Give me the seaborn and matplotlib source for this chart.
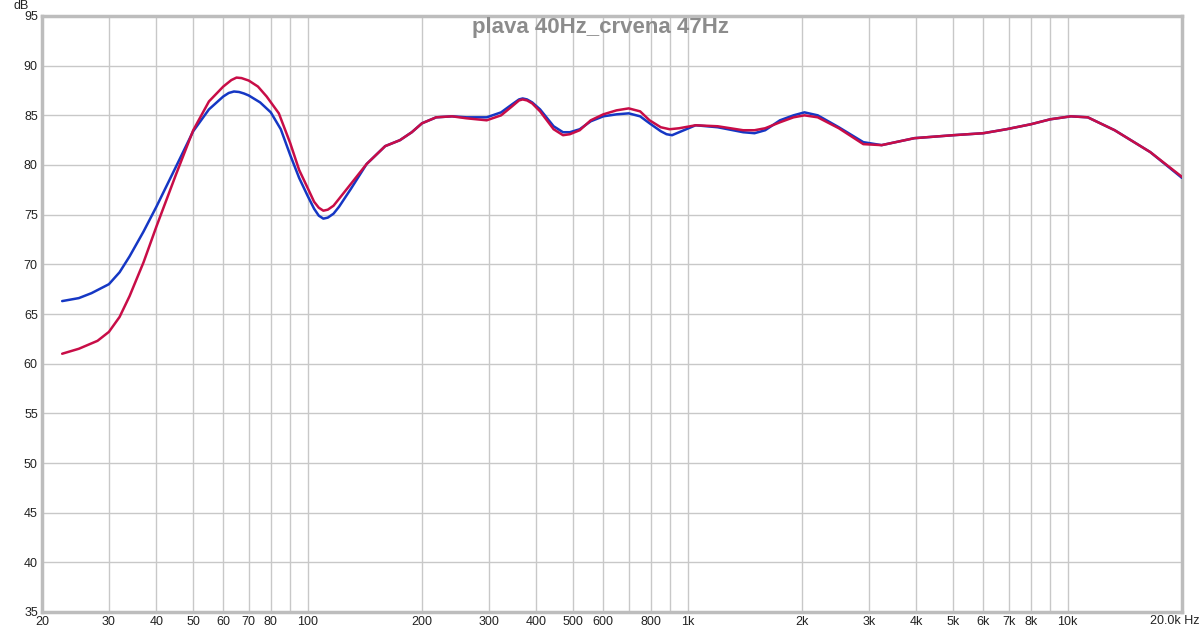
import numpy as np
import pandas as pd
import matplotlib
matplotlib.use("Agg")
import matplotlib.pyplot as plt
import seaborn as sns

# --- data ---
blue_freq = [22.6, 25, 27, 30, 32, 34, 37, 40, 45, 50, 55, 60, 62, 64, 66, 68, 70, 75, 80, 85, 90, 95,
             100, 104, 107, 110, 113, 117, 121, 130, 143, 160, 175, 188, 200, 218, 240, 262, 296, 323, 345,
             360, 368, 378, 390, 409, 444, 470, 490, 520, 556, 600, 650, 700, 750, 794, 850, 880, 910,
             950, 1050, 1200, 1400, 1500, 1600, 1750, 1900, 2030, 2200, 2500, 2900, 3240, 3950, 5000,
             6000, 6900, 8000, 9000, 10200, 11300, 13300, 16500, 20000]
blue_db = [66.3, 66.6, 67.1, 68.0, 69.2, 70.8, 73.3, 75.8, 79.8, 83.4, 85.6, 86.9, 87.25, 87.4, 87.35,
           87.2, 87.0, 86.3, 85.3, 83.6, 81.0, 78.7, 76.9, 75.6, 74.9, 74.6, 74.7, 75.1, 75.8, 77.6,
           80.1, 81.9, 82.5, 83.3, 84.2, 84.8, 84.9, 84.8, 84.8, 85.3, 86.1, 86.6, 86.7, 86.6, 86.3,
           85.6, 83.9, 83.3, 83.3, 83.6, 84.4, 84.9, 85.1, 85.2, 84.9, 84.2, 83.4, 83.1, 83.0, 83.3,
           84.0, 83.8, 83.3, 83.2, 83.5, 84.5, 85.0, 85.3, 85.0, 83.8, 82.3, 82.0, 82.7, 83.0, 83.2,
           83.6, 84.1, 84.6, 84.9, 84.8, 83.5, 81.3, 78.7]

red_freq = [22.6, 25, 28, 30, 32, 34, 37, 40, 45, 50, 55, 60, 63, 65, 67, 70, 74, 78, 84, 90, 95,
            100, 104, 107, 110, 113, 117, 121, 130, 143, 160, 175, 188, 200, 218, 240, 262, 296, 323, 345,
            360, 368, 378, 390, 409, 444, 470, 490, 520, 556, 600, 650, 700, 750, 794, 850, 897, 950,
            1050, 1200, 1400, 1500, 1600, 1750, 1900, 2030, 2200, 2500, 2900, 3240, 3950, 5000, 6000,
            6900, 8000, 9000, 10200, 11300, 13300, 16500, 20000]
red_db = [61.0, 61.5, 62.3, 63.2, 64.7, 66.8, 70.2, 73.8, 79.0, 83.5, 86.4, 87.9, 88.55, 88.8, 88.75,
          88.5, 87.9, 86.9, 85.2, 82.2, 79.5, 77.7, 76.3, 75.7, 75.4, 75.5, 75.9, 76.6, 78.1, 80.1,
          81.9, 82.5, 83.3, 84.2, 84.8, 84.9, 84.7, 84.5, 85.0, 85.9, 86.5, 86.6, 86.5, 86.2, 85.4,
          83.6, 83.0, 83.1, 83.5, 84.5, 85.1, 85.5, 85.7, 85.4, 84.5, 83.8, 83.6, 83.7, 84.0, 83.9,
          83.5, 83.5, 83.7, 84.3, 84.8, 85.0, 84.8, 83.7, 82.1, 82.0, 82.7, 83.0, 83.2, 83.6, 84.1,
          84.6, 84.9, 84.8, 83.5, 81.3, 78.8]

x_ticks = [20, 30, 40, 50, 60, 70, 80, 100, 200, 300, 400, 500, 600, 800, 1000,
           2000, 3000, 4000, 5000, 6000, 7000, 8000, 10000, 20000]
x_labels = ["20", "30", "40", "50", "60", "70", "80", "100", "200", "300", "400", "500", "600",
            "800", "1k", "2k", "3k", "4k", "5k", "6k", "7k", "8k", "10k", ""]
x_grid = [20, 30, 40, 50, 60, 70, 80, 90, 100, 200, 300, 400, 500, 600, 700, 800, 900, 1000,
          2000, 3000, 4000, 5000, 6000, 7000, 8000, 9000, 10000, 20000]
y_ticks = list(range(35, 96, 5))

sns.set_style("white")
plt.rcParams["font.family"] = ["Liberation Sans", "DejaVu Sans"]

df = pd.concat([
    pd.DataFrame({"freq": blue_freq, "db": blue_db, "trace": "plava"}),
    pd.DataFrame({"freq": red_freq, "db": red_db, "trace": "crvena"}),
])

fig = plt.figure(figsize=(12, 6.33), dpi=100)
ax = fig.add_axes([42 / 1200, 21 / 633, 1140 / 1200, 596 / 633])

sns.lineplot(data=df, x="freq", y="db", hue="trace", palette={"plava": "#1537c4", "crvena": "#c80d47"},
             estimator=None, sort=False, lw=1.8, legend=False, ax=ax, zorder=3)

ax.set_xscale("log")
ax.set_xlim(20, 20000)
ax.set_ylim(35, 95)
ax.minorticks_off()
for f in x_grid:
    ax.axvline(f, color="#c8c8c8", lw=1, zorder=1)
for v in y_ticks:
    ax.axhline(v, color="#c8c8c8", lw=1, zorder=1)

ax.set_xticks(x_ticks)
ax.set_xticklabels(x_labels)
ax.set_yticks(y_ticks)
ax.set_yticklabels([str(v) for v in y_ticks])
ax.tick_params(length=0, labelsize=9, colors="#222222", pad=3)
ax.set_xlabel("")
ax.set_ylabel("")
for s in ax.spines.values():
    s.set_color("#bdbdbd")
    s.set_linewidth(2.5)

fig.text(1199 / 1200, 1 - 621 / 633, "20.0k Hz", ha="right", va="center", fontsize=9, color="#222222")
fig.text(21 / 1200, 1 - 6 / 633, "dB", ha="center", va="center", fontsize=9, color="#222222")
fig.text(0.5, 1 - 28 / 633, "plava 40Hz_crvena 47Hz", ha="center", va="center",
         fontsize=16, fontweight="bold", color="#8c8c8c")

fig.savefig("out.png", dpi=100)
